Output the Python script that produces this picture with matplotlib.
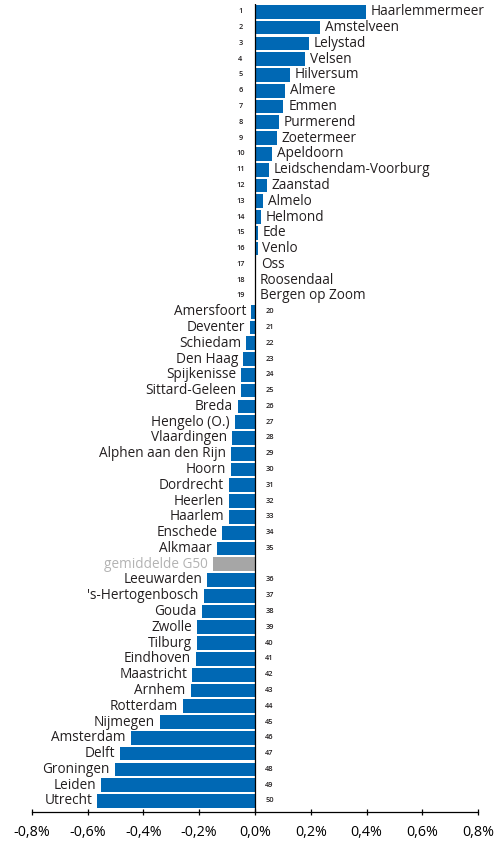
import matplotlib.pyplot as plt
from matplotlib.ticker import FuncFormatter

# -------------------------------
# data (percent change, G50 municipalities)
# -------------------------------
cities = [
    "Haarlemmermeer", "Amstelveen", "Lelystad", "Velsen", "Hilversum",
    "Almere", "Emmen", "Purmerend", "Zoetermeer", "Apeldoorn",
    "Leidschendam-Voorburg", "Zaanstad", "Almelo", "Helmond", "Ede",
    "Venlo", "Oss", "Roosendaal", "Bergen op Zoom", "Amersfoort",
    "Deventer", "Schiedam", "Den Haag", "Spijkenisse", "Sittard-Geleen",
    "Breda", "Hengelo (O.)", "Vlaardingen", "Alphen aan den Rijn", "Hoorn",
    "Dordrecht", "Heerlen", "Haarlem", "Enschede", "Alkmaar",
    "Leeuwarden", "'s-Hertogenbosch", "Gouda", "Zwolle", "Tilburg",
    "Eindhoven", "Maastricht", "Arnhem", "Rotterdam", "Nijmegen",
    "Amsterdam", "Delft", "Groningen", "Leiden", "Utrecht",
]
values = [
    0.397, 0.232, 0.193, 0.178, 0.124,
    0.107, 0.102, 0.085, 0.078, 0.060,
    0.049, 0.042, 0.030, 0.020, 0.010,
    0.009, 0.005, 0.0, 0.0, -0.015,
    -0.019, -0.033, -0.043, -0.051, -0.051,
    -0.062, -0.072, -0.082, -0.087, -0.087,
    -0.093, -0.093, -0.093, -0.118, -0.136,
    -0.172, -0.184, -0.191, -0.209, -0.209,
    -0.213, -0.226, -0.231, -0.258, -0.341,
    -0.446, -0.482, -0.503, -0.550, -0.565,
]
avg_label = "gemiddelde G50"
avg_value = -0.151
avg_after = 35   # inserted after rank 35

# -------------------------------
# build rows
# -------------------------------
labels = cities[:avg_after] + [avg_label] + cities[avg_after:]
vals = values[:avg_after] + [avg_value] + values[avg_after:]
ranks = list(range(1, avg_after + 1)) + [None] + list(range(avg_after + 1, len(cities) + 1))

blue = "#0068b4"
grey = "#a6a6a6"
txt = "#231f20"

plt.rcParams["font.family"] = ["Open Sans", "DejaVu Sans"]

fig = plt.figure(figsize=(4.97, 8.43), dpi=100)
ax = fig.add_axes([0.0638, 0.0368, 0.8986, 0.9585])

ypos = list(range(len(labels)))
colors = [grey if r is None else blue for r in ranks]
ax.barh(ypos, vals, height=0.87, color=colors, zorder=2)

for y, lab, v, r in zip(ypos, labels, vals, ranks):
    if v >= 0:
        ax.annotate(lab, (v, y), xytext=(3.5, 0), textcoords="offset points",
                    ha="left", va="center", fontsize=9.8, color=txt)
        ax.annotate(str(r), (0, y), xytext=(-10.5, 0), textcoords="offset points",
                    ha="center", va="center", fontsize=5.3, color=txt,
                    fontweight="semibold")
    else:
        ax.annotate(lab, (v, y), xytext=(-3.5, 0), textcoords="offset points",
                    ha="right", va="center", fontsize=9.8,
                    color="#b3b3b3" if r is None else txt)
        if r is not None:
            ax.annotate(str(r), (0, y), xytext=(10.5, 0), textcoords="offset points",
                        ha="center", va="center", fontsize=5.3, color=txt,
                        fontweight="semibold")

ax.axvline(0, color="black", linewidth=0.9, zorder=3)

ax.set_xlim(-0.8, 0.8)
ax.set_ylim(len(labels) - 1 + 0.7, -0.5)
ax.set_xticks([-0.8, -0.6, -0.4, -0.2, 0.0, 0.2, 0.4, 0.6, 0.8])
ax.xaxis.set_major_formatter(FuncFormatter(lambda x, p: f"{x:.1f}%".replace(".", ",")))
ax.set_yticks([])
for s in ["top", "left", "right"]:
    ax.spines[s].set_visible(False)
ax.spines["bottom"].set_linewidth(0.9)
ax.tick_params(axis="x", direction="inout", length=5, width=0.9,
               labelsize=10.3, colors="black", pad=7)

fig.savefig("out.png", dpi=100)
